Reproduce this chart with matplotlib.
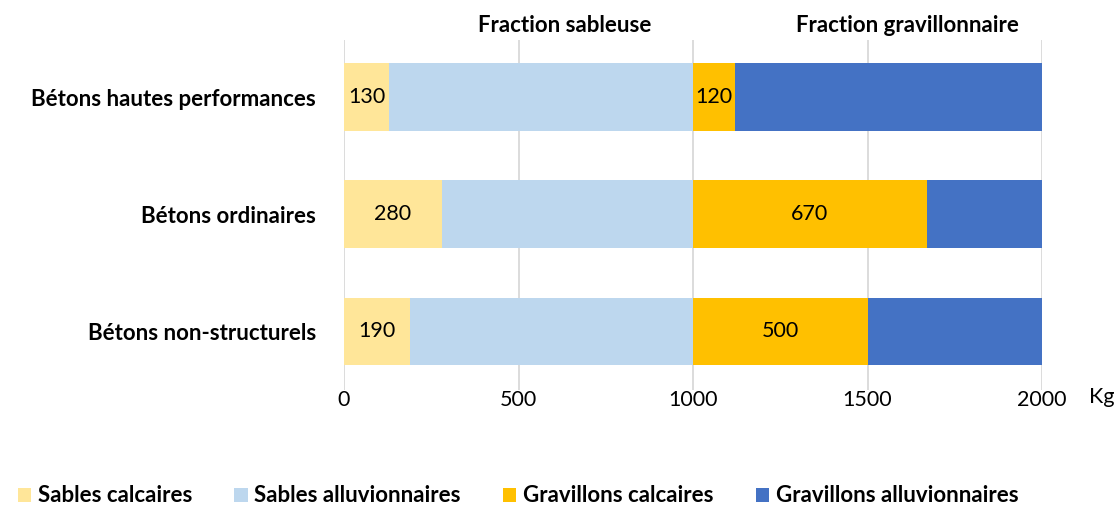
import matplotlib.pyplot as plt
import numpy as np

plt.rcParams['font.family'] = ['Lato', 'DejaVu Sans']

categories = ['Bétons hautes performances', 'Bétons ordinaires', 'Bétons non-structurels']
sables_calcaires = [130, 280, 190]
sables_alluvionnaires = [870, 720, 810]
gravillons_calcaires = [120, 670, 500]
gravillons_alluvionnaires = [880, 330, 500]
series_names = ['Sables calcaires', 'Sables alluvionnaires',
                'Gravillons calcaires', 'Gravillons alluvionnaires']
colors = ['#FFE699', '#BDD7EE', '#FFC000', '#4472C4']
xticks = [0, 500, 1000, 1500, 2000]

fig = plt.figure(figsize=(11.14, 5.07), dpi=100)
ax = fig.add_axes([344 / 1114, 1 - 390 / 507, 698 / 1114, 350 / 507])

y = np.arange(len(categories))
left = np.zeros(len(categories))
series = [sables_calcaires, sables_alluvionnaires, gravillons_calcaires, gravillons_alluvionnaires]
for i, (name, vals, c) in enumerate(zip(series_names, series, colors)):
    bars = ax.barh(y, vals, left=left, height=0.58, color=c, label=name, zorder=2)
    if i in (0, 2):
        ax.bar_label(bars, labels=[str(v) for v in vals], label_type='center',
                     fontsize=15.5, color='#000000')
    left = left + np.array(vals)

ax.set_xlim(0, 2000)
ax.set_ylim(2.5, -0.49)
ax.set_xticks(xticks)
ax.set_xticklabels([str(t) for t in xticks], fontsize=15.5)
ax.set_yticks(y)
ax.set_yticklabels(categories, fontsize=16, fontweight='bold')
ax.tick_params(axis='both', length=0)
ax.tick_params(axis='x', pad=0)
ax.tick_params(axis='y', pad=20)
ax.grid(axis='x', color='#D9D9D9', linewidth=1.3, zorder=0)
for s in ax.spines.values():
    s.set_visible(False)

fig.text(565 / 1114, 1 - 25 / 507, 'Fraction sableuse', ha='center', va='center',
         fontsize=16, fontweight='bold')
fig.text(907 / 1114, 1 - 25 / 507, 'Fraction gravillonnaire', ha='center', va='center',
         fontsize=16, fontweight='bold')
fig.text(1102 / 1114, 1 - 397 / 507, 'Kg', ha='center', va='center', fontsize=15.5)

fig.legend(loc='center', bbox_to_anchor=(0.465, 1 - 496 / 507), ncol=4, frameon=False,
           prop={'size': 16, 'weight': 'bold'}, handlelength=0.6, handleheight=0.6,
           handletextpad=0.3, columnspacing=1.9)

fig.savefig('out.png', dpi=100)
